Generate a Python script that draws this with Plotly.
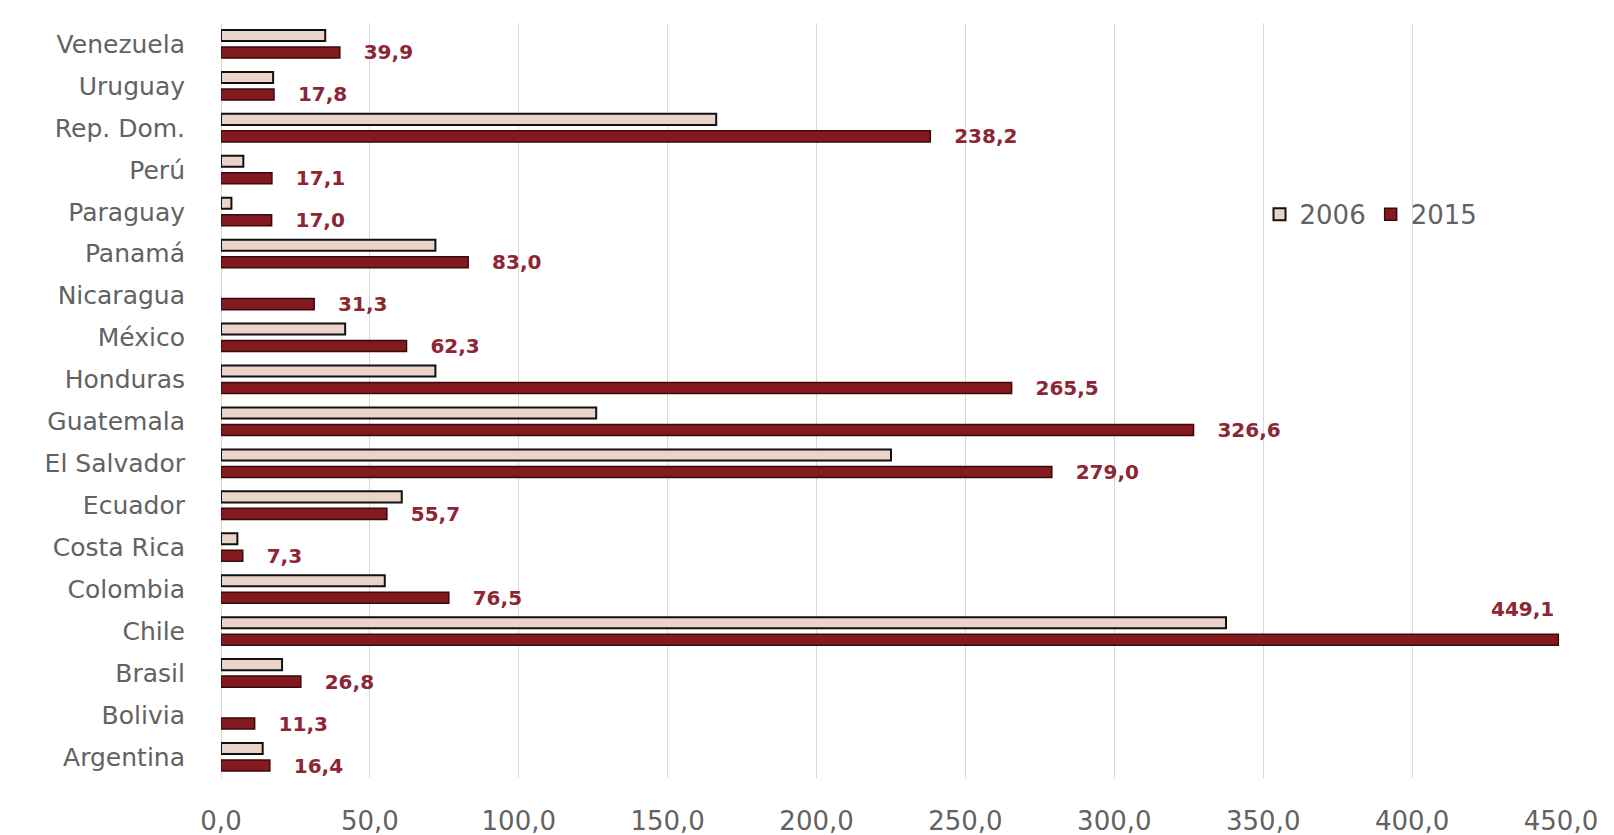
import plotly.graph_objects as go

countries = ["Argentina", "Bolivia", "Brasil", "Chile", "Colombia", "Costa Rica",
             "Ecuador", "El Salvador", "Guatemala", "Honduras", "México", "Nicaragua",
             "Panamá", "Paraguay", "Perú", "Rep. Dom.", "Uruguay", "Venezuela"]
values_2006 = [14.0, None, 20.5, 337.5, 55.0, 5.5,
               60.7, 225.0, 126.0, 72.0, 41.7, None,
               72.0, 3.5, 7.5, 166.3, 17.5, 35.0]
values_2015 = [16.4, 11.3, 26.8, 449.1, 76.5, 7.3,
               55.7, 279.0, 326.6, 265.5, 62.3, 31.3,
               83.0, 17.0, 17.1, 238.2, 17.8, 39.9]
tick_vals = [0, 50, 100, 150, 200, 250, 300, 350, 400, 450]

FONT = "DejaVu Sans"
GREY = "#626262"
LABEL_COLOR = "#8E2535"
OUTSIDE_LABEL_SKIP = "Chile"


def fmt(v):
    return f"{v:.1f}".replace(".", ",")


labels_2015 = ["\u00a0\u00a0\u00a0" + fmt(v) if c != OUTSIDE_LABEL_SKIP else ""
               for c, v in zip(countries, values_2015)]

fig = go.Figure()
fig.add_trace(go.Bar(
    name="2015", y=countries, x=values_2015, orientation="h",
    marker=dict(color="#821A1E", line=dict(color="#3A0A0C", width=1.5)),
    text=labels_2015, textposition="outside", constraintext="none",
    textfont=dict(family=FONT, size=20, color=LABEL_COLOR, weight="bold"),
    cliponaxis=False, legendrank=2,
))
fig.add_trace(go.Bar(
    name="2006", y=countries, x=values_2006, orientation="h",
    marker=dict(color="#EAD4CA", line=dict(color="#111111", width=2)),
    legendrank=1,
))

ci = countries.index(OUTSIDE_LABEL_SKIP)
fig.add_annotation(
    x=values_2015[ci], y=countries[ci], text=fmt(values_2015[ci]),
    showarrow=False, xanchor="right", yanchor="middle", xshift=-2, yshift=22,
    font=dict(family=FONT, size=20, color=LABEL_COLOR, weight="bold"),
)

fig.update_layout(
    width=1614, height=835, autosize=False,
    margin=dict(l=221, r=53, t=23, b=57, autoexpand=False),
    paper_bgcolor="white", plot_bgcolor="white",
    barmode="group", bargap=0.19, bargroupgap=0.35,
    separators=",.",
    font=dict(family=FONT, color=GREY),
    legend=dict(orientation="h", x=0.775, y=0.7465, xanchor="left", yanchor="middle",
                font=dict(family=FONT, size=26, color=GREY),
                bgcolor="rgba(0,0,0,0)", itemwidth=30),
    xaxis=dict(range=[0, 450], tickvals=tick_vals, tickformat=".1f",
               showgrid=True, gridcolor="#D9D9D9", gridwidth=1,
               zeroline=True, zerolinecolor="#D9D9D9", zerolinewidth=1,
               showline=False, ticks="outside", ticklen=20,
               tickcolor="rgba(0,0,0,0)", automargin=False,
               tickfont=dict(family=FONT, size=26, color=GREY), fixedrange=True),
    yaxis=dict(categoryorder="array", categoryarray=countries,
               showgrid=False, showline=False, ticks="outside", ticklen=30,
               tickcolor="rgba(0,0,0,0)", automargin=False,
               tickfont=dict(family=FONT, size=25, color=GREY), fixedrange=True),
)

fig.write_html("out.html", config={"displayModeBar": False},
               post_script="document.body.style.margin='0';")
